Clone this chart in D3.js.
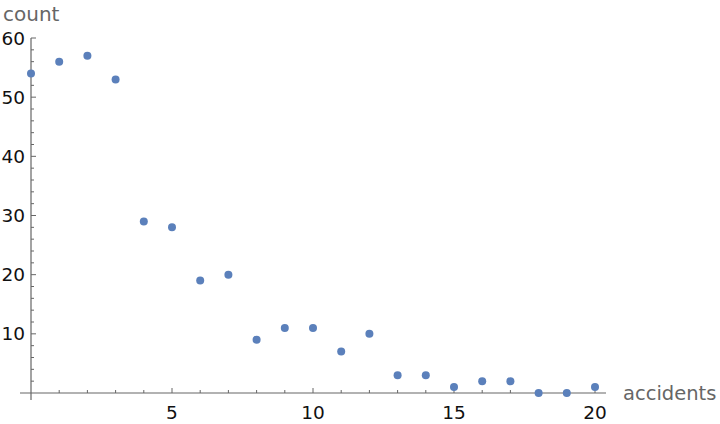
<!DOCTYPE html>
<html><head><meta charset="utf-8">
<script src="https://cdn.jsdelivr.net/npm/d3@7"></script>
<style>body{margin:0;background:#fff}svg{display:block}text{font-family:"DejaVu Sans",sans-serif}</style>
</head><body>
<svg id="c" width="720" height="424"></svg>
<script>
const accidents = [0,1,2,3,4,5,6,7,8,9,10,11,12,13,14,15,16,17,18,19,20];
const counts = [54,56,57,53,29,28,19,20,9,11,11,7,10,3,3,1,2,2,0,0,1];
const xTicks = [5,10,15,20];
const yTicks = [10,20,30,40,50,60];

const svg = d3.select("#c");
const x = d3.scaleLinear().domain([0,20]).range([31,595]);
const y = d3.scaleLinear().domain([0,60]).range([393,38]);
const axisColor = "#666";

svg.append("line").attr("x1",20).attr("x2",606).attr("y1",y(0)).attr("y2",y(0))
  .attr("stroke",axisColor).attr("stroke-width",1.2);
svg.append("line").attr("x1",x(0)).attr("x2",x(0)).attr("y1",y(60)).attr("y2",400)
  .attr("stroke",axisColor).attr("stroke-width",1.2);

const xMinor = d3.range(1,21);
svg.selectAll(".xt").data(xMinor).join("line")
  .attr("x1",d=>x(d)).attr("x2",d=>x(d))
  .attr("y1",y(0)).attr("y2",d=>y(0)-(d%5===0?5:3))
  .attr("stroke",axisColor).attr("stroke-width",1);
svg.selectAll(".xl").data(xTicks).join("text")
  .attr("x",d=>x(d)).attr("y",419).attr("text-anchor","middle")
  .attr("font-size",18.5).attr("fill","#111").text(d=>d);

const yMinor = d3.range(2,61,2);
svg.selectAll(".yt").data(yMinor).join("line")
  .attr("x1",x(0)).attr("x2",d=>x(0)+(d%10===0?5:3))
  .attr("y1",d=>y(d)).attr("y2",d=>y(d))
  .attr("stroke",axisColor).attr("stroke-width",1);
svg.selectAll(".yl").data(yTicks).join("text")
  .attr("x",25).attr("y",d=>y(d)+6.5).attr("text-anchor","end")
  .attr("font-size",18.5).attr("fill","#111").text(d=>d);

svg.append("text").attr("x",3).attr("y",21).attr("font-size",20).attr("fill",axisColor).text("count");
svg.append("text").attr("x",623).attr("y",400).attr("font-size",19.5).attr("fill",axisColor).text("accidents");

svg.selectAll(".pt").data(accidents).join("circle")
  .attr("cx",d=>x(d)).attr("cy",(d,i)=>y(counts[i])).attr("r",4)
  .attr("fill","#5b80bb");
</script>
</body></html>
